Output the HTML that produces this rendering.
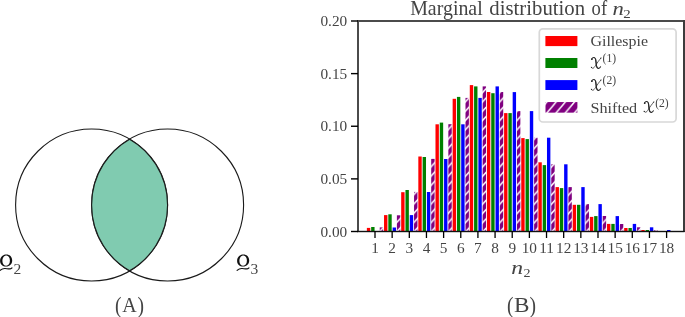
<!DOCTYPE html>
<html><head><meta charset="utf-8"><style>
html,body{margin:0;padding:0;background:#fff;}
body{width:685px;height:317px;overflow:hidden;}
svg{display:block;will-change:transform;}
text{font-family:"Liberation Serif",serif;fill:#444;}
</style></head><body>
<svg width="685" height="317" viewBox="0 0 685 317">
<defs>
<pattern id="h" patternUnits="userSpaceOnUse" x="-0.060" y="0" width="8.611" height="9.300"><rect x="-1" y="-1" width="10.611" height="11.300" fill="#800080"/><path d="M-8.611,9.300 L17.222,-18.600 M-8.611,18.600 L17.222,-9.300 M-8.611,27.900 L17.222,0.000" stroke="#fff" stroke-width="1.5"/></pattern>
<pattern id="hl" patternUnits="userSpaceOnUse" x="6.250" y="0" width="9.200" height="11.040"><rect x="-1" y="-1" width="11.200" height="13.040" fill="#800080"/><path d="M-9.200,11.040 L18.400,-22.080 M-9.200,22.080 L18.400,-11.040 M-9.200,33.120 L18.400,0.000" stroke="#fff" stroke-width="1.5"/></pattern>
</defs>
<rect width="685" height="317" fill="#fff"/>
<!-- Venn -->
<circle cx="91.6" cy="205" r="76" fill="none" stroke="#1a1a1a" stroke-width="1.1"/>
<circle cx="167.6" cy="205" r="76" fill="none" stroke="#1a1a1a" stroke-width="1.1"/>
<path d="M129.6,139.2 A76,76 0 0 1 129.6,270.8 A76,76 0 0 1 129.6,139.2 Z" fill="#80cbb0" stroke="#1a1a1a" stroke-width="1.1"/>
<g font-size="21.5"><text transform="translate(122.2,312) scale(0.93,1)">A</text><text transform="translate(514.1,312) scale(1.08,1)">B</text></g>
<g font-size="23"><text transform="translate(115.1,312.6) scale(0.85,1)">(</text><text transform="translate(137.4,312.6) scale(0.85,1)">)</text><text transform="translate(507.1,312.6) scale(0.85,1)">(</text><text transform="translate(529.4,312.6) scale(0.85,1)">)</text></g>
<!-- bars -->
<g><rect x="366.87" y="227.90" width="3.39" height="3.60" fill="#ff0000"/><rect x="371.16" y="227.00" width="3.39" height="4.50" fill="#008000"/><rect x="384.03" y="215.10" width="3.39" height="16.40" fill="#ff0000"/><rect x="388.31" y="214.30" width="3.39" height="17.20" fill="#008000"/><rect x="392.60" y="227.50" width="3.39" height="4.00" fill="#0000ff"/><rect x="401.18" y="192.20" width="3.39" height="39.30" fill="#ff0000"/><rect x="405.47" y="190.00" width="3.39" height="41.50" fill="#008000"/><rect x="409.76" y="215.10" width="3.39" height="16.40" fill="#0000ff"/><rect x="418.33" y="156.50" width="3.39" height="75.00" fill="#ff0000"/><rect x="422.62" y="157.00" width="3.39" height="74.50" fill="#008000"/><rect x="426.91" y="192.00" width="3.39" height="39.50" fill="#0000ff"/><rect x="435.49" y="124.30" width="3.39" height="107.20" fill="#ff0000"/><rect x="439.77" y="122.60" width="3.39" height="108.90" fill="#008000"/><rect x="444.06" y="159.00" width="3.39" height="72.50" fill="#0000ff"/><rect x="452.64" y="98.80" width="3.39" height="132.70" fill="#ff0000"/><rect x="456.93" y="96.90" width="3.39" height="134.60" fill="#008000"/><rect x="461.21" y="124.30" width="3.39" height="107.20" fill="#0000ff"/><rect x="469.79" y="85.10" width="3.39" height="146.40" fill="#ff0000"/><rect x="474.08" y="86.40" width="3.39" height="145.10" fill="#008000"/><rect x="478.37" y="97.90" width="3.39" height="133.60" fill="#0000ff"/><rect x="486.94" y="92.00" width="3.39" height="139.50" fill="#ff0000"/><rect x="491.23" y="93.20" width="3.39" height="138.30" fill="#008000"/><rect x="495.52" y="86.40" width="3.39" height="145.10" fill="#0000ff"/><rect x="504.10" y="113.10" width="3.39" height="118.40" fill="#ff0000"/><rect x="508.39" y="113.10" width="3.39" height="118.40" fill="#008000"/><rect x="512.67" y="92.10" width="3.39" height="139.40" fill="#0000ff"/><rect x="521.25" y="138.10" width="3.39" height="93.40" fill="#ff0000"/><rect x="525.54" y="139.10" width="3.39" height="92.40" fill="#008000"/><rect x="529.83" y="111.10" width="3.39" height="120.40" fill="#0000ff"/><rect x="538.40" y="162.30" width="3.39" height="69.20" fill="#ff0000"/><rect x="542.69" y="165.10" width="3.39" height="66.40" fill="#008000"/><rect x="546.98" y="137.70" width="3.39" height="93.80" fill="#0000ff"/><rect x="555.56" y="187.10" width="3.39" height="44.40" fill="#ff0000"/><rect x="559.84" y="188.10" width="3.39" height="43.40" fill="#008000"/><rect x="564.13" y="164.30" width="3.39" height="67.20" fill="#0000ff"/><rect x="572.71" y="204.80" width="3.39" height="26.70" fill="#ff0000"/><rect x="577.00" y="204.80" width="3.39" height="26.70" fill="#008000"/><rect x="581.29" y="187.10" width="3.39" height="44.40" fill="#0000ff"/><rect x="589.86" y="216.90" width="3.39" height="14.60" fill="#ff0000"/><rect x="594.15" y="216.10" width="3.39" height="15.40" fill="#008000"/><rect x="598.44" y="204.10" width="3.39" height="27.40" fill="#0000ff"/><rect x="607.02" y="223.90" width="3.39" height="7.60" fill="#ff0000"/><rect x="611.30" y="223.90" width="3.39" height="7.60" fill="#008000"/><rect x="615.59" y="216.10" width="3.39" height="15.40" fill="#0000ff"/><rect x="624.17" y="228.00" width="3.39" height="3.50" fill="#ff0000"/><rect x="628.46" y="228.00" width="3.39" height="3.50" fill="#008000"/><rect x="632.75" y="223.90" width="3.39" height="7.60" fill="#0000ff"/><rect x="641.32" y="230.00" width="3.39" height="1.50" fill="#ff0000"/><rect x="645.61" y="230.00" width="3.39" height="1.50" fill="#008000"/><rect x="649.90" y="227.30" width="3.39" height="4.20" fill="#0000ff"/><rect x="667.05" y="230.00" width="3.39" height="1.50" fill="#0000ff"/></g>
<g fill="url(#h)"><rect x="379.74" y="227.40" width="3.39" height="4.10"/><rect x="396.89" y="215.30" width="3.39" height="16.20"/><rect x="414.04" y="191.90" width="3.39" height="39.60"/><rect x="431.20" y="158.90" width="3.39" height="72.60"/><rect x="448.35" y="124.20" width="3.39" height="107.30"/><rect x="465.50" y="97.90" width="3.39" height="133.60"/><rect x="482.66" y="86.40" width="3.39" height="145.10"/><rect x="499.81" y="92.00" width="3.39" height="139.50"/><rect x="516.96" y="111.10" width="3.39" height="120.40"/><rect x="534.12" y="137.70" width="3.39" height="93.80"/><rect x="551.27" y="164.30" width="3.39" height="67.20"/><rect x="568.42" y="187.10" width="3.39" height="44.40"/><rect x="585.57" y="204.10" width="3.39" height="27.40"/><rect x="602.73" y="216.00" width="3.39" height="15.50"/><rect x="619.88" y="224.00" width="3.39" height="7.50"/><rect x="637.03" y="227.30" width="3.39" height="4.20"/><rect x="654.19" y="230.00" width="3.39" height="1.50"/></g>
<!-- axes -->
<g fill="#000">
<rect x="357" y="20" width="2" height="212" fill="#4b4b4b"/>
<rect x="357" y="20" width="327.6" height="2" fill="#4b4b4b"/>
<rect x="683" y="20" width="2" height="212" fill="#3c3c3c"/>
<rect x="357" y="230.8" width="327.6" height="1.4" fill="#111"/>
<rect x="374.35" y="231" width="1.3" height="7"/><rect x="391.50" y="231" width="1.3" height="7"/><rect x="408.66" y="231" width="1.3" height="7"/><rect x="425.81" y="231" width="1.3" height="7"/><rect x="442.96" y="231" width="1.3" height="7"/><rect x="460.12" y="231" width="1.3" height="7"/><rect x="477.27" y="231" width="1.3" height="7"/><rect x="494.42" y="231" width="1.3" height="7"/><rect x="511.57" y="231" width="1.3" height="7"/><rect x="528.73" y="231" width="1.3" height="7"/><rect x="545.88" y="231" width="1.3" height="7"/><rect x="563.03" y="231" width="1.3" height="7"/><rect x="580.19" y="231" width="1.3" height="7"/><rect x="597.34" y="231" width="1.3" height="7"/><rect x="614.49" y="231" width="1.3" height="7"/><rect x="631.64" y="231" width="1.3" height="7"/><rect x="648.80" y="231" width="1.3" height="7"/><rect x="665.95" y="231" width="1.3" height="7"/>
<rect x="351" y="230.80" width="7" height="1.4"/><rect x="351" y="178.18" width="7" height="1.4"/><rect x="351" y="125.55" width="7" height="1.4"/><rect x="351" y="72.92" width="7" height="1.4"/><rect x="351" y="20.30" width="7" height="1.4"/>
</g>
<g font-size="15.3" text-anchor="middle"><text x="375.00" y="253.2">1</text><text x="392.15" y="253.2">2</text><text x="409.31" y="253.2">3</text><text x="426.46" y="253.2">4</text><text x="443.61" y="253.2">5</text><text x="460.76" y="253.2">6</text><text x="477.92" y="253.2">7</text><text x="495.07" y="253.2">8</text><text x="512.22" y="253.2">9</text><text x="529.38" y="253.2">10</text><text x="546.53" y="253.2">11</text><text x="563.68" y="253.2">12</text><text x="580.84" y="253.2">13</text><text x="597.99" y="253.2">14</text><text x="615.14" y="253.2">15</text><text x="632.29" y="253.2">16</text><text x="649.45" y="253.2">17</text><text x="666.60" y="253.2">18</text></g>
<g font-size="15.3" text-anchor="end"><text x="347.2" y="236.70">0.00</text><text x="347.2" y="184.07">0.05</text><text x="347.2" y="131.45">0.10</text><text x="347.2" y="78.82">0.15</text><text x="347.2" y="26.20">0.20</text></g>
<g font-size="21">
<text x="410.2" y="14.8" textLength="72.5" lengthAdjust="spacingAndGlyphs">Marginal</text>
<text x="489.3" y="14.8" textLength="95.8" lengthAdjust="spacingAndGlyphs">distribution</text>
<text x="591.6" y="14.8" textLength="15.5" lengthAdjust="spacingAndGlyphs">of</text>
<text x="612.4" y="14.8" font-style="italic" font-size="19.5" textLength="11.3" lengthAdjust="spacingAndGlyphs">n</text>
<text transform="translate(623.3,17.6) scale(1.15,1)" font-size="13">2</text>
</g>
<g font-size="21">
<text x="511.3" y="273.7" font-style="italic" font-size="19.5" textLength="11.8" lengthAdjust="spacingAndGlyphs">n</text>
<text transform="translate(523.4,277.0) scale(1.05,1)" font-size="13.4">2</text>
</g>
<!-- legend -->
<rect x="539.3" y="28.8" width="136.8" height="93.2" rx="3.5" fill="#fff" fill-opacity="0.8" stroke="#d8d8d8" stroke-width="1.7"/>
<rect x="545.4" y="36.0" width="32" height="10.1" fill="#ff0000"/>
<rect x="545.4" y="58.0" width="32" height="10.0" fill="#008000"/>
<rect x="545.4" y="80.1" width="32" height="9.9" fill="#0000ff"/>
<rect x="545.5" y="102.05" width="31.9" height="10.6" fill="url(#hl)"/>
<g font-size="15.5">
<text x="590.5" y="46.4" textLength="57.5" lengthAdjust="spacingAndGlyphs">Gillespie</text>
<text transform="translate(602.6,62.2) scale(0.9,1)" font-size="12.9">(1)</text>
<text transform="translate(602.6,84.3) scale(0.9,1)" font-size="12.9">(2)</text>
<text x="590.5" y="112.6" textLength="46.7" lengthAdjust="spacingAndGlyphs">Shifted</text>
<text transform="translate(655.2,107.2) scale(0.9,1)" font-size="12.9">(2)</text>
</g>
<g transform="translate(591.0,57.0) scale(1.0,1.05)" stroke="#2a2a2a"><g fill="none" stroke-linecap="round">
<path d="M0.6,2.2 C1.2,0.9 2.4,0.3 3.5,0.6 C4.5,0.9 4.8,2.4 5.0,4.5 C5.3,7.4 5.5,9.4 6.4,10.4 C7.4,11.3 8.8,10.6 9.6,9.3" stroke-width="1.0"/>
<path d="M4.6,2.0 C4.9,3.5 5.0,6.0 5.4,8.2 C5.6,9.3 5.9,10.0 6.3,10.3" stroke-width="1.1"/>
<path d="M9.9,1.0 C8.5,2.6 6.2,5.5 4.6,8.0 C3.6,9.6 2.6,10.9 1.5,10.7 C0.9,10.6 0.5,10.2 0.3,9.8" stroke-width="0.75"/>
<circle cx="0.9" cy="2.1" r="0.85" stroke="none" fill="#2a2a2a"/>
<circle cx="9.9" cy="1.0" r="0.55" stroke="none" fill="#2a2a2a"/>
<circle cx="0.5" cy="9.9" r="0.6" stroke="none" fill="#2a2a2a"/>
</g></g>
<g transform="translate(591.0,79.0) scale(1.0,1.05)" stroke="#2a2a2a"><g fill="none" stroke-linecap="round">
<path d="M0.6,2.2 C1.2,0.9 2.4,0.3 3.5,0.6 C4.5,0.9 4.8,2.4 5.0,4.5 C5.3,7.4 5.5,9.4 6.4,10.4 C7.4,11.3 8.8,10.6 9.6,9.3" stroke-width="1.0"/>
<path d="M4.6,2.0 C4.9,3.5 5.0,6.0 5.4,8.2 C5.6,9.3 5.9,10.0 6.3,10.3" stroke-width="1.1"/>
<path d="M9.9,1.0 C8.5,2.6 6.2,5.5 4.6,8.0 C3.6,9.6 2.6,10.9 1.5,10.7 C0.9,10.6 0.5,10.2 0.3,9.8" stroke-width="0.75"/>
<circle cx="0.9" cy="2.1" r="0.85" stroke="none" fill="#2a2a2a"/>
<circle cx="9.9" cy="1.0" r="0.55" stroke="none" fill="#2a2a2a"/>
<circle cx="0.5" cy="9.9" r="0.6" stroke="none" fill="#2a2a2a"/>
</g></g>
<g transform="translate(643.8,101.0) scale(1.0,1.05)" stroke="#2a2a2a"><g fill="none" stroke-linecap="round">
<path d="M0.6,2.2 C1.2,0.9 2.4,0.3 3.5,0.6 C4.5,0.9 4.8,2.4 5.0,4.5 C5.3,7.4 5.5,9.4 6.4,10.4 C7.4,11.3 8.8,10.6 9.6,9.3" stroke-width="1.0"/>
<path d="M4.6,2.0 C4.9,3.5 5.0,6.0 5.4,8.2 C5.6,9.3 5.9,10.0 6.3,10.3" stroke-width="1.1"/>
<path d="M9.9,1.0 C8.5,2.6 6.2,5.5 4.6,8.0 C3.6,9.6 2.6,10.9 1.5,10.7 C0.9,10.6 0.5,10.2 0.3,9.8" stroke-width="0.75"/>
<circle cx="0.9" cy="2.1" r="0.85" stroke="none" fill="#2a2a2a"/>
<circle cx="9.9" cy="1.0" r="0.55" stroke="none" fill="#2a2a2a"/>
<circle cx="0.5" cy="9.9" r="0.6" stroke="none" fill="#2a2a2a"/>
</g></g>
<!-- Q labels -->
<g fill="#111">
<g transform="translate(-0.4,254.6)"><g>
<path fill-rule="evenodd" d="M6.9,0 C10.6,0 12.6,2.8 12.6,6.0 C12.6,9.6 10.0,12.0 6.6,12.0 C3.0,12.0 0.5,9.6 0.5,6.3 C0.5,2.8 3.3,0 6.9,0 Z
M6.9,0.8 C4.6,0.8 2.8,3.0 2.8,6.3 C2.8,9.3 4.5,11.2 6.6,11.2 C8.9,11.2 10.3,9.2 10.3,6.0 C10.3,2.9 8.9,0.8 6.9,0.8 Z"/>
<path d="M0.5,15.8 C2.0,14.4 3.6,13.7 5.6,13.9 C7.6,14.1 9.2,14.5 10.6,14.3 C11.5,14.2 12.0,13.8 12.4,13.3" fill="none" stroke="#111" stroke-width="1.15" stroke-linecap="round"/>
</g></g>
<g transform="translate(236.6,254.6)"><g>
<path fill-rule="evenodd" d="M6.9,0 C10.6,0 12.6,2.8 12.6,6.0 C12.6,9.6 10.0,12.0 6.6,12.0 C3.0,12.0 0.5,9.6 0.5,6.3 C0.5,2.8 3.3,0 6.9,0 Z
M6.9,0.8 C4.6,0.8 2.8,3.0 2.8,6.3 C2.8,9.3 4.5,11.2 6.6,11.2 C8.9,11.2 10.3,9.2 10.3,6.0 C10.3,2.9 8.9,0.8 6.9,0.8 Z"/>
<path d="M0.5,15.8 C2.0,14.4 3.6,13.7 5.6,13.9 C7.6,14.1 9.2,14.5 10.6,14.3 C11.5,14.2 12.0,13.8 12.4,13.3" fill="none" stroke="#111" stroke-width="1.15" stroke-linecap="round"/>
</g></g>
</g>
<g font-size="15.5"><text x="13.6" y="273.8">2</text><text x="250.6" y="273.5">3</text></g>
</svg>
</body></html>
